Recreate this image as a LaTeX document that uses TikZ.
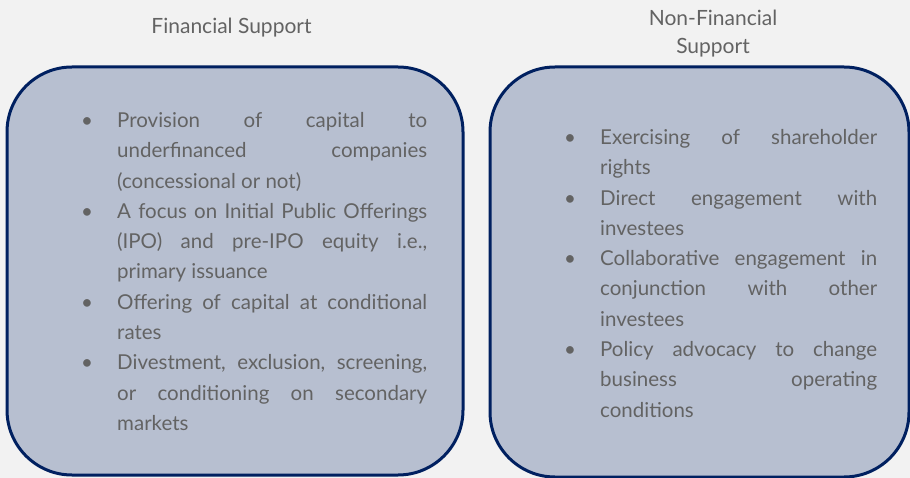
\documentclass[tikz,border=0pt]{standalone}
\usepackage{fontspec}
\setmainfont{Lato}
\definecolor{pagebg}{HTML}{F2F2F2}
\definecolor{panelfill}{HTML}{B7BFD0}
\definecolor{panelline}{HTML}{002060}
\definecolor{bodytext}{HTML}{636363}
\tikzset{
  panel/.style={draw=panelline, line width=3pt, fill=panelfill, rounded corners=65pt, inner sep=0pt},
  heading/.style={font=\fontsize{21}{28}\selectfont, text=bodytext, inner sep=0pt},
  itemlist/.style={font=\fontsize{20.5}{30.3}\selectfont, text=bodytext, inner sep=0pt, anchor=north west, align=justify},
}
\newcommand{\bitem}{\par\noindent\hangindent=36pt\hangafter=1\makebox[36pt][l]{\rule{0pt}{20pt}\textbullet}}
\begin{document}
\begin{tikzpicture}[x=1pt,y=-1pt]
\fill[pagebg] (0,0) rectangle (910,478);
\useasboundingbox (0,0) rectangle (910,478);
\node[panel, minimum width=456pt, minimum height=408pt] (finbox) at (235,271){};
\node[panel, minimum width=419pt, minimum height=410pt] (nonfinbox) at (699.5,272){};
\node[heading, anchor=base] (fintitle) at (231.5,34){Financial Support};
\node[heading, anchor=north, align=center] (nonfintitle) at (713,10){Non-Financial\\Support};
\node[itemlist, text width=346pt] (finlist) at (81,97){\tolerance=10000\hbadness=10000\hyphenpenalty=10000\exhyphenpenalty=10000
\bitem Provision of capital to\linebreak underfinanced companies\linebreak (concessional or not)
\bitem A focus on Initial Public Offerings\linebreak (IPO) and pre-IPO equity i.e.,\linebreak primary issuance
\bitem Offering of capital at conditional\linebreak rates
\bitem Divestment, exclusion, screening,\linebreak or conditioning on secondary\linebreak markets\par};
\node[itemlist, text width=313pt] (nonfinlist) at (564,114){\tolerance=10000\hbadness=10000\hyphenpenalty=10000\exhyphenpenalty=10000
\bitem Exercising of shareholder\linebreak rights
\bitem Direct engagement with\linebreak investees
\bitem Collaborative engagement in\linebreak conjunction with other\linebreak investees
\bitem Policy advocacy to change\linebreak business operating\linebreak conditions\par};
\end{tikzpicture}
\end{document}
